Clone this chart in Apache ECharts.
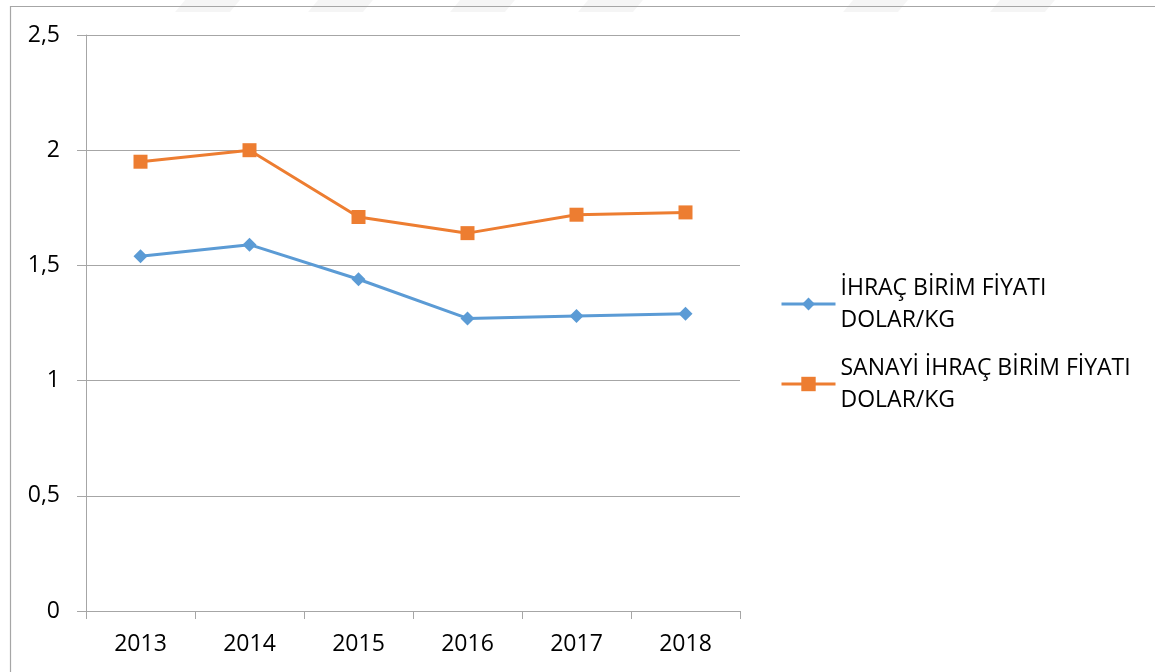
<!DOCTYPE html>
<html>
<head>
<meta charset="utf-8">
<script src="https://cdn.jsdelivr.net/npm/echarts@6/dist/echarts.min.js"></script>
<style>
html,body{margin:0;padding:0;background:#fff;}
#chart{width:1155px;height:672px;}
</style>
</head>
<body>
<div id="chart"></div>
<script>
var categories = ['2013', '2014', '2015', '2016', '2017', '2018'];
var seriesNames = ['İHRAÇ BİRİM FİYATI\nDOLAR/KG', 'SANAYİ İHRAÇ BİRİM FİYATI\nDOLAR/KG'];
var ihracValues = [1.54, 1.59, 1.44, 1.27, 1.28, 1.29];
var sanayiValues = [1.95, 2.00, 1.71, 1.64, 1.72, 1.73];
var yTickLabels = ['0', '0,5', '1', '1,5', '2', '2,5'];

var FONT = '"Open Sans", sans-serif';
var GRAY = '#a6a6a6';
var chart = echarts.init(document.getElementById('chart'));

function wm(x) {
  return {
    type: 'polygon', silent: true, z: -1,
    shape: { points: [[x, 0], [x + 55, 0], [x + 45, 12], [x - 10, 12]] },
    style: { fill: 'rgba(0,0,0,0.04)' }
  };
}

var legendText = {
  fontFamily: FONT, fontSize: 23, color: '#000', lineHeight: 32,
  padding: [32, 0, 0, 0]
};

chart.setOption({
  animation: false,
  backgroundColor: '#fff',
  graphic: [
    wm(185), wm(318), wm(460), wm(588), wm(853), wm(1000),
    {
      type: 'rect', silent: true,
      shape: { x: 10.5, y: 6.5, width: 1200, height: 700 },
      style: { fill: 'none', stroke: GRAY, lineWidth: 1.2 }
    }
  ],
  grid: { left: 86, right: 415, top: 35, bottom: 61 },
  legend: [
    {
      data: [seriesNames[0]], left: 780, top: 256, padding: 0,
      orient: 'vertical', itemWidth: 54, itemHeight: 16, itemGap: 4,
      lineStyle: { width: 3 },
      textStyle: legendText
    },
    {
      data: [seriesNames[1]], left: 780, top: 336, padding: 0,
      orient: 'vertical', itemWidth: 54, itemHeight: 18, itemGap: 4,
      lineStyle: { width: 3 },
      textStyle: legendText
    }
  ],
  xAxis: {
    type: 'category',
    data: categories,
    boundaryGap: true,
    axisLine: { lineStyle: { color: GRAY, width: 1 } },
    axisTick: { show: true, length: 8, lineStyle: { color: GRAY } },
    axisLabel: { fontFamily: FONT, fontSize: 23, color: '#000', margin: 22 },
    splitLine: { show: false }
  },
  yAxis: {
    type: 'value',
    min: 0, max: 2.5, interval: 0.5,
    axisLine: { show: true, lineStyle: { color: GRAY, width: 1 } },
    axisTick: { show: true, length: 9, lineStyle: { color: GRAY } },
    axisLabel: {
      fontFamily: FONT, fontSize: 23, color: '#000', margin: 26,
      formatter: function (v) { return yTickLabels[Math.round(v / 0.5)]; }
    },
    splitLine: { show: true, lineStyle: { color: GRAY, width: 1 } }
  },
  series: [
    {
      name: seriesNames[0], type: 'line', data: ihracValues,
      symbol: 'diamond', symbolSize: 14,
      itemStyle: { color: '#5B9BD5' },
      lineStyle: { color: '#5B9BD5', width: 3 }
    },
    {
      name: seriesNames[1], type: 'line', data: sanayiValues,
      symbol: 'rect', symbolSize: 14,
      itemStyle: { color: '#ED7D31' },
      lineStyle: { color: '#ED7D31', width: 3 }
    }
  ]
});
</script>
</body>
</html>
